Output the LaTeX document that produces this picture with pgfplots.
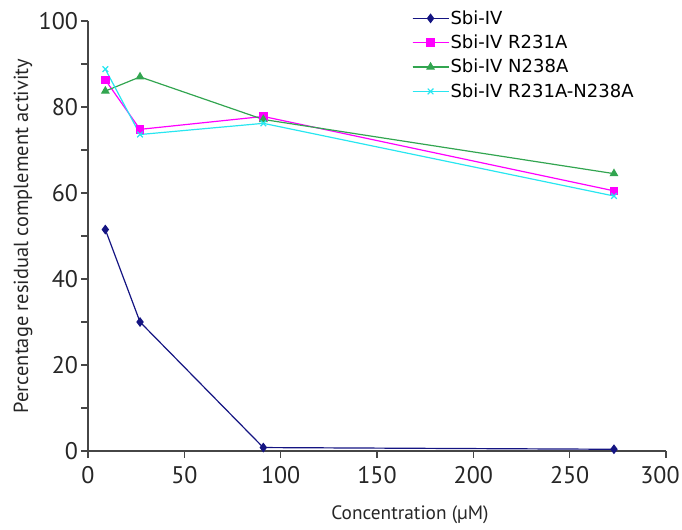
\documentclass[border=0pt]{standalone}
\usepackage{fontspec}
\setmainfont{PT Sans}
\newfontfamily\legfont{DejaVu Sans}
\usepackage{pgfplots}
\pgfplotsset{compat=1.18}

\definecolor{sbinavy}{RGB}{20,20,130}
\definecolor{sbimag}{RGB}{255,0,255}
\definecolor{sbigreen}{RGB}{50,165,80}
\definecolor{sbicyan}{RGB}{40,230,240}
\definecolor{axgray}{RGB}{70,70,70}

\begin{document}
\begin{tikzpicture}
\path[use as bounding box] (-66pt,-59.25pt) rectangle (445.5pt,338.25pt);
\begin{axis}[
  scale only axis,
  width=433.5pt, height=322.5pt,
  xmin=0, xmax=300, ymin=0, ymax=100,
  axis lines=left,
  axis line style={axgray, line width=0.9pt, -},
  xtick={0,50,...,300},
  xticklabels={0,50,100,150,200,250,\hspace*{-9pt}300},
  ytick={0,20,...,100},
  minor y tick num=1,
  tick align=outside,
  major tick length=5pt,
  minor tick length=5pt,
  tick style={axgray, line width=0.8pt},
  /pgf/number format/assume math mode=true,
  ticklabel style={font=\fontsize{18}{20}\selectfont, text=black!85},
  xticklabel style={yshift=-3pt},
  yticklabel style={xshift=1pt},
  xlabel={Concentration (µM)},
  ylabel={Percentage residual complement activity},
  label style={text=black!85},
  xlabel style={font=\fontsize{14.5}{16}\selectfont, at={(axis description cs:0.557,-0.149)}, anchor=center},
  ylabel style={font=\fontsize{15.3}{17}\selectfont, at={(axis description cs:-0.1125,0.5)}, anchor=center},
  legend style={draw=none, fill=none, at={(axis description cs:0.56,1.028)}, anchor=north west,
    font=\legfont\fontsize{13.5}{15}\selectfont, row sep=4.5pt, inner sep=0pt,
    nodes={inner sep=1pt}},
  legend cell align=left,
  legend image code/.code={
    \draw (0cm,0cm) -- (0.95cm,0cm);
    \draw[mark repeat=2,mark phase=2] plot coordinates {(0cm,0cm) (0.475cm,0cm) (0.95cm,0cm)};},
  every axis plot/.append style={line width=0.9pt},
]
\addplot[sbinavy, mark=diamond*, mark size=3pt, mark options={solid}] coordinates {
  (9,51.5) (27,30) (91,0.8) (273,0.4)
};
\addlegendentry{Sbi-IV}
\addplot[sbimag, mark=square*, mark size=2.8pt] coordinates {
  (9,86.3) (27,74.8) (91,77.8) (273,60.5)
};
\addlegendentry{Sbi-IV R231A}
\addplot[sbigreen, mark=triangle*, mark size=3pt] coordinates {
  (9,83.7) (27,87) (91,77.1) (273,64.5)
};
\addlegendentry{Sbi-IV N238A}
\addplot[sbicyan, mark=x, mark size=3pt] coordinates {
  (9,88.8) (27,73.6) (91,76.2) (273,59.3)
};
\addlegendentry{Sbi-IV R231A-N238A}
\end{axis}
\end{tikzpicture}
\end{document}
